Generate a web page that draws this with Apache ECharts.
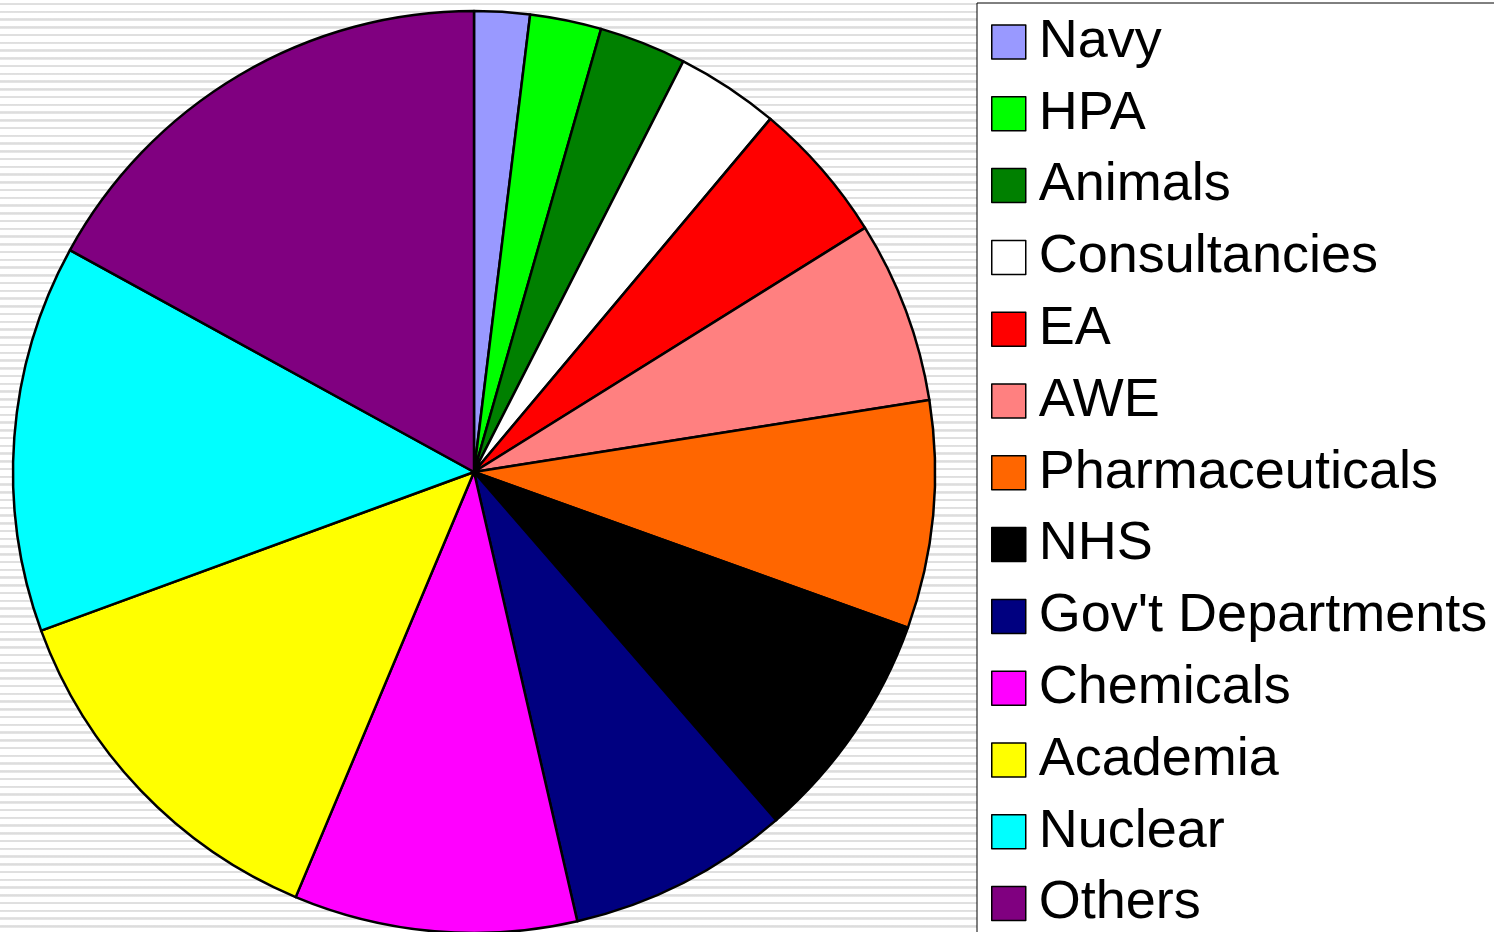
<!DOCTYPE html>
<html>
<head>
<meta charset="utf-8">
<script src="https://cdn.jsdelivr.net/npm/echarts@6/dist/echarts.min.js"></script>
<style>
html,body{margin:0;padding:0;width:1494px;height:932px;overflow:hidden;}
body{background:repeating-linear-gradient(to bottom,#ffffff 0px,#ffffff 2.8px,#e4e4e4 2.8px,#dcdcdc 4.2px,#e8e8e8 5.4px,#ffffff 5.4px,#ffffff 7.75px);}
#chart{width:1494px;height:932px;}
</style>
</head>
<body>
<div id="chart"></div>
<script>
const categories = ["Navy","HPA","Animals","Consultancies","EA","AWE","Pharmaceuticals","NHS","Gov't Departments","Chemicals","Academia","Nuclear","Others"];
const values = [7, 9, 11, 13, 18, 23, 28.7, 29.3, 28, 35.7, 47.1, 48.9, 61.2];
const colors = ["#9999FF","#00FF00","#008000","#FFFFFF","#FF0000","#FF8080","#FF6600","#000000","#000080","#FF00FF","#FFFF00","#00FFFF","#800080"];

const FS = 54;
const chart = echarts.init(document.getElementById('chart'), null, {renderer:'canvas'});
chart.setOption({
  animation:false,
  backgroundColor:'transparent',
  legend:{
    orient:'vertical',
    left:977,
    top:3,
    height:1100,
    padding:[12,60,60,14],
    backgroundColor:'#ffffff',
    borderColor:'#000000',
    borderWidth:1,
    itemWidth:34,
    itemHeight:34,
    itemGap:71.8-FS,
    icon:'rect',
    selectedMode:false,
    itemStyle:{borderColor:'#000000',borderWidth:1.5},
    textStyle:{fontFamily:'Liberation Sans, Arial, sans-serif',fontSize:FS,color:'#000000',padding:[3,0,0,8]},
    data:categories
  },
  series:[{
    type:'pie',
    center:[474,472],
    radius:[0,461],
    startAngle:90,
    clockwise:true,
    avoidLabelOverlap:false,
    label:{show:false},
    labelLine:{show:false},
    emphasis:{disabled:true},
    silent:true,
    itemStyle:{borderColor:'#000000',borderWidth:2.5},
    data:categories.map((c,i)=>({name:c,value:values[i],itemStyle:{color:colors[i]}}))
  }]
});
</script>
</body>
</html>
